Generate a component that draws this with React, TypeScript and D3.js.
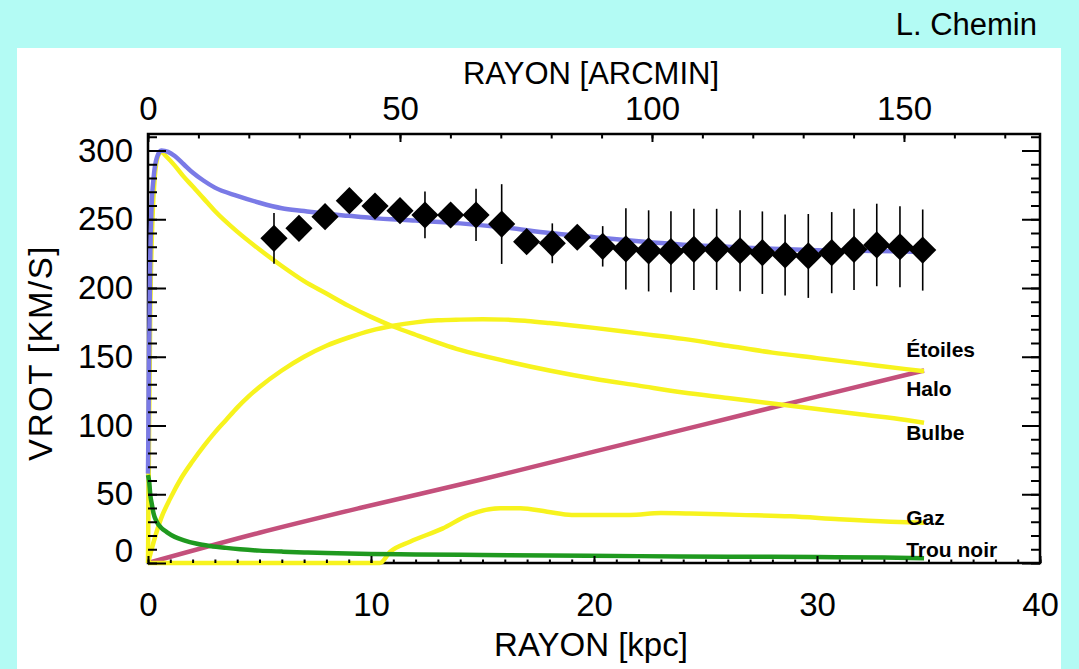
import { useEffect, useRef } from 'react';
import * as d3 from 'd3';

type Pt = [number, number];

const kpcPerArcmin = 0.226;

// rayon [kpc], vitesse [km/s]
const totale: Pt[] = [
  [0, 65], [0.05, 150], [0.1, 220], [0.15, 255], [0.25, 280], [0.4, 295], [0.6, 300], [0.9, 299],
  [1.2, 296], [1.6, 290], [2, 284], [2.5, 278], [3, 273], [4, 267], [5, 262], [6, 258], [7, 256],
  [8, 254], [9, 252.5], [10, 251], [12, 249], [14, 247], [16, 244], [18, 240], [20, 237], [22, 234],
  [24, 231.5], [26, 230], [28, 228.5], [30, 227.5], [32, 227], [34, 226.5], [34.8, 226],
];
const bulbe: Pt[] = [
  [0, 0], [0.05, 100], [0.1, 180], [0.2, 250], [0.3, 280], [0.45, 296], [0.6, 299], [0.8, 296],
  [1.2, 289], [1.6, 281], [2, 274], [2.5, 265], [3, 256], [4, 241], [5, 228], [6, 216], [7, 205],
  [8, 196], [9, 187], [10, 179], [11, 172], [12, 166], [14, 155], [16, 147], [18, 140], [20, 134],
  [22, 129], [24, 124], [26, 120], [28, 116], [30, 112], [32, 108], [34, 104], [34.8, 102],
];
const etoiles: Pt[] = [
  [0, 0], [0.3, 18], [0.6, 33], [1, 47], [1.5, 62], [2, 74], [2.5, 85], [3, 95], [3.5, 104],
  [4, 113], [4.5, 121], [5, 128], [6, 140], [7, 150], [8, 158], [9, 164], [10, 169], [11, 172.5],
  [12, 175], [13, 176.5], [14, 177], [15, 177.2], [16, 177], [17, 176], [18, 174.5], [20, 171],
  [22, 167], [24, 163], [26, 158], [28, 153], [30, 149], [32, 145], [34, 141], [34.8, 139.5],
];
const halo: Pt[] = [
  [0, 0], [5, 22], [9.5, 40], [14.9, 60.5], [20, 81], [25, 101], [30, 121], [34.8, 140],
];
const gaz: Pt[] = [
  [0, 0], [10.4, 0], [10.85, 8], [11.75, 15.5], [13.2, 25], [14.4, 35], [15.8, 39.8], [16.7, 39.8],
  [17.9, 37.3], [19, 35], [20.3, 35], [21.6, 35], [23, 36.3], [24.3, 36], [26.5, 35], [28.8, 34],
  [31, 31.8], [33.3, 30], [34.8, 29.3],
];
const trouNoir: Pt[] = [
  [0, 64], [0.06, 58], [0.1, 50], [0.17, 43], [0.25, 36], [0.39, 30], [0.6, 25.5], [0.84, 22.5],
  [1.2, 19], [1.58, 16.7], [2.2, 14], [2.78, 12.4], [3.5, 11], [4.13, 10], [5, 9], [6, 8.3], [7, 7.7],
  [8, 7.2], [10, 6.6], [12, 6.2], [15, 5.8], [18, 5.4], [22, 5], [26, 4.6], [30, 4.3], [33, 4], [34.8, 3.5],
];

// points observés
const obsR = [5.65, 6.77, 7.94, 9.03, 10.18, 11.3, 12.42, 13.57, 14.71, 15.86, 16.98, 18.13, 19.25, 20.39,
  21.43, 22.45, 23.45, 24.48, 25.5, 26.55, 27.55, 28.57, 29.61, 30.66, 31.66, 32.68, 33.72, 34.74];
const obsV = [236.1, 243.4, 251.9, 263.5, 259.6, 256.2, 253.1, 253.1, 253.1, 246.5, 233.7, 232.5, 236.9, 230.3,
  228.5, 227, 226.4, 228.1, 228.1, 227.1, 225.7, 224, 223.3, 225.7, 228.1, 231.3, 230, 227.6];
const obsErr = [18.5, 6, 6, 6, 6, 6, 17, 6, 19, 29, 6, 14.5, 6, 14.7,
  29.5, 29.5, 29.5, 29.5, 29.5, 29.5, 30, 29.5, 30.5, 29.5, 29.5, 30, 29.5, 29.5];

const xMajor = [0, 10, 20, 30, 40];
const xMinor = d3.range(0, 41, 1);
const arcMajor = [0, 50, 100, 150];
const arcMinor = d3.range(0, 171, 10);
const yMajor = [0, 50, 100, 150, 200, 250, 300];
const yMinor = d3.range(0, 311, 10);

const curveNames = ['Étoiles', 'Halo', 'Bulbe', 'Gaz', 'Trou noir'];

export default function App() {
  const svgRef = useRef<SVGSVGElement>(null);

  useEffect(() => {
    const width = 1079;
    const height = 669;
    const left = 148, right = 1040, top = 134, bottom = 563;
    const font = '"Liberation Sans", Arial, sans-serif';

    const svg = d3.select(svgRef.current)
      .attr('width', width)
      .attr('height', height);
    svg.selectAll('*').remove();

    svg.append('rect').attr('width', width).attr('height', height).attr('fill', '#b3fbf4');
    svg.append('rect').attr('x', 17).attr('y', 48).attr('width', 1044).attr('height', 621).attr('fill', '#fff');

    svg.append('text')
      .attr('x', 1037).attr('y', 35)
      .attr('text-anchor', 'end')
      .attr('font-family', font).attr('font-size', 31)
      .text('L. Chemin');

    const x = d3.scaleLinear().domain([0, 40]).range([left, right]);
    const xTop = d3.scaleLinear().domain([0, 40 / kpcPerArcmin]).range([left, right]);
    const y = d3.scaleLinear().domain([0, 312]).range([bottom, top]);

    // cadre
    svg.append('rect')
      .attr('x', left).attr('y', top)
      .attr('width', right - left).attr('height', bottom - top)
      .attr('fill', 'none').attr('stroke', '#000').attr('stroke-width', 2.5);

    // courbes
    const line = d3.line<Pt>()
      .x(d => x(d[0]))
      .y(d => y(d[1]))
      .curve(d3.curveMonotoneX);

    const yellow = '#f7f31e';
    const curves: [Pt[], string][] = [
      [halo, '#c4507c'],
      [etoiles, yellow],
      [bulbe, yellow],
      [gaz, yellow],
      [trouNoir, '#1f991f'],
      [totale, '#7a7ae6'],
    ];
    curves.forEach(([data, color]) => {
      svg.append('path')
        .datum(data)
        .attr('fill', 'none')
        .attr('stroke', color)
        .attr('stroke-width', 4.5)
        .attr('stroke-linejoin', 'round')
        .attr('d', line);
    });

    // barres d'erreur
    svg.append('g').selectAll('line')
      .data(obsR)
      .join('line')
      .attr('x1', d => x(d)).attr('x2', d => x(d))
      .attr('y1', (d, i) => y(obsV[i] - obsErr[i]))
      .attr('y2', (d, i) => y(obsV[i] + obsErr[i]))
      .attr('stroke', '#000').attr('stroke-width', 1.6);

    const diamond = d3.symbol(d3.symbolSquare, 370);
    svg.append('g').selectAll('path')
      .data(obsR)
      .join('path')
      .attr('d', diamond)
      .attr('transform', (d, i) => `translate(${x(d)},${y(obsV[i])}) rotate(45)`)
      .attr('fill', '#000');

    // axes
    const style = (g: any, size = 33) => {
      g.select('.domain').remove();
      g.selectAll('line').attr('stroke', '#000').attr('stroke-width', 2);
      g.selectAll('text').attr('font-family', font).attr('font-size', size).attr('fill', '#000');
    };
    const noLabel = () => '';

    svg.append('g').attr('transform', `translate(${left},0)`)
      .call(d3.axisLeft(y).tickValues(yMinor).tickSize(-9).tickFormat(noLabel)).call(style);
    const yAxis = svg.append('g').attr('transform', `translate(${left},0)`)
      .call(d3.axisLeft(y).tickValues(yMajor).tickSize(-18).tickPadding(15).tickFormat(d3.format('d')));
    yAxis.call(style);
    yAxis.selectAll('text').filter((d: any) => d === 0).attr('y', -12);

    svg.append('g').attr('transform', `translate(${right},0)`)
      .call(d3.axisRight(y).tickValues(yMinor).tickSize(-9).tickFormat(noLabel)).call(style);
    svg.append('g').attr('transform', `translate(${right},0)`)
      .call(d3.axisRight(y).tickValues(yMajor).tickSize(-18).tickFormat(noLabel)).call(style);

    svg.append('g').attr('transform', `translate(0,${bottom})`)
      .call(d3.axisBottom(x).tickValues(xMinor).tickSize(-3.5).tickFormat(noLabel)).call(style);
    svg.append('g').attr('transform', `translate(0,${bottom})`)
      .call(d3.axisBottom(x).tickValues(xMajor).tickSize(-7).tickPadding(30).tickFormat(d3.format('d'))).call(style);

    svg.append('g').attr('transform', `translate(0,${top})`)
      .call(d3.axisTop(xTop).tickValues(arcMinor).tickSize(-4.5).tickFormat(noLabel)).call(style);
    svg.append('g').attr('transform', `translate(0,${top})`)
      .call(d3.axisTop(xTop).tickValues(arcMajor).tickSize(-8).tickPadding(14).tickFormat(d3.format('d'))).call(style);

    // titres
    const cx = (left + right) / 2 - 3;
    svg.append('text')
      .attr('x', cx).attr('y', 656)
      .attr('text-anchor', 'middle')
      .attr('font-family', font).attr('font-size', 33)
      .text('RAYON [kpc]');
    svg.append('text')
      .attr('x', cx).attr('y', 84)
      .attr('text-anchor', 'middle')
      .attr('font-family', font).attr('font-size', 31)
      .text('RAYON [ARCMIN]');
    svg.append('text')
      .attr('transform', `translate(40,353) rotate(-90)`)
      .attr('text-anchor', 'middle')
      .attr('dominant-baseline', 'central')
      .attr('font-family', font).attr('font-size', 33)
      .attr('letter-spacing', 1.5)
      .text('VROT [KM/S]');

    // étiquettes des composantes
    const labelV = [155, 127, 95, 33, 10];
    svg.append('g').selectAll('text')
      .data(curveNames)
      .join('text')
      .attr('x', x(34))
      .attr('y', (d, i) => y(labelV[i]))
      .attr('dominant-baseline', 'central')
      .attr('font-family', font).attr('font-size', 21).attr('font-weight', 'bold')
      .text(d => d);
  }, []);

  return (
    <svg ref={svgRef} style={{ position: 'absolute', left: 0, top: 0, display: 'block' }}></svg>
  );
}
